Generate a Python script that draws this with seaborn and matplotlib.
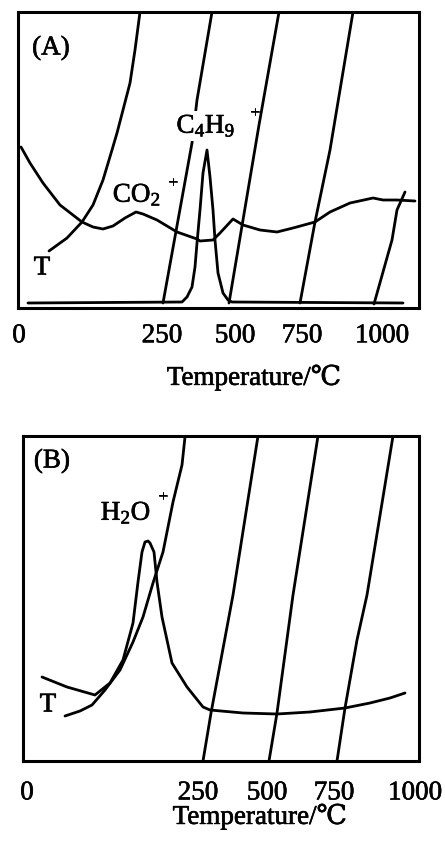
import numpy as np
import pandas as pd
import matplotlib
matplotlib.use("Agg")
import matplotlib.pyplot as plt
import matplotlib.patheffects as pe
import seaborn as sns

# ---------------- data (arbitrary time / intensity units) -------------
# Panel A
a_co2_t = [3, 12, 25, 42, 64, 75, 85, 95, 107, 118, 125, 139, 159, 179, 182, 195, 202, 215,
           225, 242, 259, 275, 297, 312, 332, 355, 365, 379, 397]
a_co2_i = [161, 145, 125, 103, 86, 81, 79, 82, 90, 96, 94, 88, 76, 69, 67, 68, 75, 89,
           83, 78, 76, 80, 86, 96, 105, 110, 108, 108, 107]

a_c4h9_t = [10, 164, 169, 174, 177, 179, 182, 185, 189, 192, 195, 197, 200, 205, 210, 214, 385]
a_c4h9_i = [5, 6, 11, 21, 41, 65, 98, 135, 158, 131, 98, 68, 35, 15, 8, 6, 5]

# temperature trace, one list per recorder range
a_T0_t = [31, 49, 64, 75, 85, 94, 99, 105, 112, 117, 122]
a_T0_i = [57, 70, 86, 103, 128, 158, 175, 198, 225, 258, 296]
a_T250_t = [145, 174, 179, 194]
a_T250_i = [5, 165, 208, 296]
a_T500_t = [211, 241, 261]
a_T500_i = [5, 183, 296]
a_T750_t = [282, 297, 312, 335]
a_T750_i = [5, 86, 158, 296]
a_T1000_t = [356, 374, 379, 387]
a_T1000_i = [4, 68, 98, 116]

a_tick_pos = [1, 144, 217, 284, 364]
tick_labels = ["0", "250", "500", "750", "1000"]

# Panel B
b_h2o_t = [19, 44, 72, 87, 100, 110, 115, 119, 122, 125, 127, 131, 134, 139, 149, 164, 180,
           187, 220, 254, 287, 322, 347, 367, 382]
b_h2o_i = [84, 74, 66, 78, 101, 138, 179, 209, 219, 220, 218, 209, 179, 144, 98, 74, 54,
           51, 48, 47, 49, 53, 58, 63, 68]

b_T0_t = [42, 57, 69, 82, 97, 110, 120, 130, 140, 150, 159, 162]
b_T0_i = [45, 50, 56, 71, 91, 119, 144, 178, 209, 259, 296, 324]
b_T250_t = [180, 188, 210, 235]
b_T250_i = [0, 48, 166, 325]
b_T500_t = [246, 254, 270, 295]
b_T500_i = [0, 48, 166, 325]
b_T750_t = [314, 322, 334, 344, 370]
b_T750_i = [0, 53, 121, 166, 325]

b_tick_pos = [4, 175, 244, 311, 392]

# ---------------- style -------------
sns.set_theme(style="white")
plt.rcParams["font.family"] = ["Liberation Serif", "DejaVu Serif", "Noto Sans CJK SC"]
plt.rcParams["mathtext.fontset"] = "custom"
plt.rcParams["mathtext.rm"] = "Liberation Serif"
plt.rcParams["mathtext.it"] = "Liberation Serif:italic"
plt.rcParams["text.color"] = "black"
plt.rcParams["axes.labelcolor"] = "black"
plt.rcParams["xtick.color"] = "black"

FS = 19.5
LW = 2.0
W, H = 445, 844
BOLD = [pe.withStroke(linewidth=0.45, foreground="black")]

fig = plt.figure(figsize=(W / 100, H / 100), dpi=100)
axA = fig.add_axes([18 / W, (H - 308) / H, 401 / W, 296 / H])
axB = fig.add_axes([23 / W, (H - 761) / H, 396 / W, 325 / H])


def draw(ax, t, i):
    df = pd.DataFrame({"t": t, "i": i})
    sns.lineplot(data=df, x="t", y="i", ax=ax, color="black", lw=LW,
                 sort=False, estimator=None, legend=False)


for t, i in [(a_co2_t, a_co2_i), (a_c4h9_t, a_c4h9_i), (a_T0_t, a_T0_i),
             (a_T250_t, a_T250_i), (a_T500_t, a_T500_i), (a_T750_t, a_T750_i),
             (a_T1000_t, a_T1000_i)]:
    draw(axA, t, i)
for t, i in [(b_h2o_t, b_h2o_i), (b_T0_t, b_T0_i), (b_T250_t, b_T250_i),
             (b_T500_t, b_T500_i), (b_T750_t, b_T750_i)]:
    draw(axB, t, i)

axA.set_xlim(0, 401)
axA.set_ylim(0, 296)
axB.set_xlim(0, 396)
axB.set_ylim(0, 325)

for ax, pos, pad, lab_xy in [(axA, a_tick_pos, 11, (0.5885, -0.236)),
                             (axB, b_tick_pos, 14, (0.598, -0.172))]:
    ax.set_xticks(pos, tick_labels)
    ax.set_yticks([])
    ax.tick_params(axis="x", length=0, pad=pad, labelsize=FS, colors="black")
    for lab in ax.get_xticklabels():
        lab.set_path_effects(BOLD)
    ax.set_ylabel("")
    ax.set_xlabel("Temperature/℃", fontsize=FS, color="black")
    ax.xaxis.set_label_coords(*lab_xy)
    ax.xaxis.label.set_va("center")
    ax.xaxis.label.set_path_effects(BOLD)
    for s in ax.spines.values():
        s.set_color("black")
        s.set_linewidth(2.2)
        s.set_visible(True)

txt = dict(ha="center", va="center", path_effects=BOLD)
# annotations panel A
axA.text(33, 260, "(A)", fontsize=FS, **txt)
axA.text(24, 40, "T", fontsize=FS, **txt)
axA.text(119, 113, r"$\mathregular{CO_2}$", fontsize=FS, **txt)
axA.text(155, 125, "+", fontsize=12, **txt)
axA.text(188, 182, r"$\mathregular{C_4H_9}$", fontsize=FS, zorder=5,
         bbox=dict(fc="white", ec="none", pad=1.5), **txt)
axA.text(237, 195, "+", fontsize=12, **txt)

# annotations panel B
axB.text(29, 300, "(B)", fontsize=FS, **txt)
axB.text(25, 56, "T", fontsize=FS, **txt)
axB.text(103, 248, r"$\mathregular{H_2O}$", fontsize=FS, **txt)
axB.text(140, 264, "+", fontsize=12, **txt)

fig.savefig("out.png", dpi=100, facecolor="white")
